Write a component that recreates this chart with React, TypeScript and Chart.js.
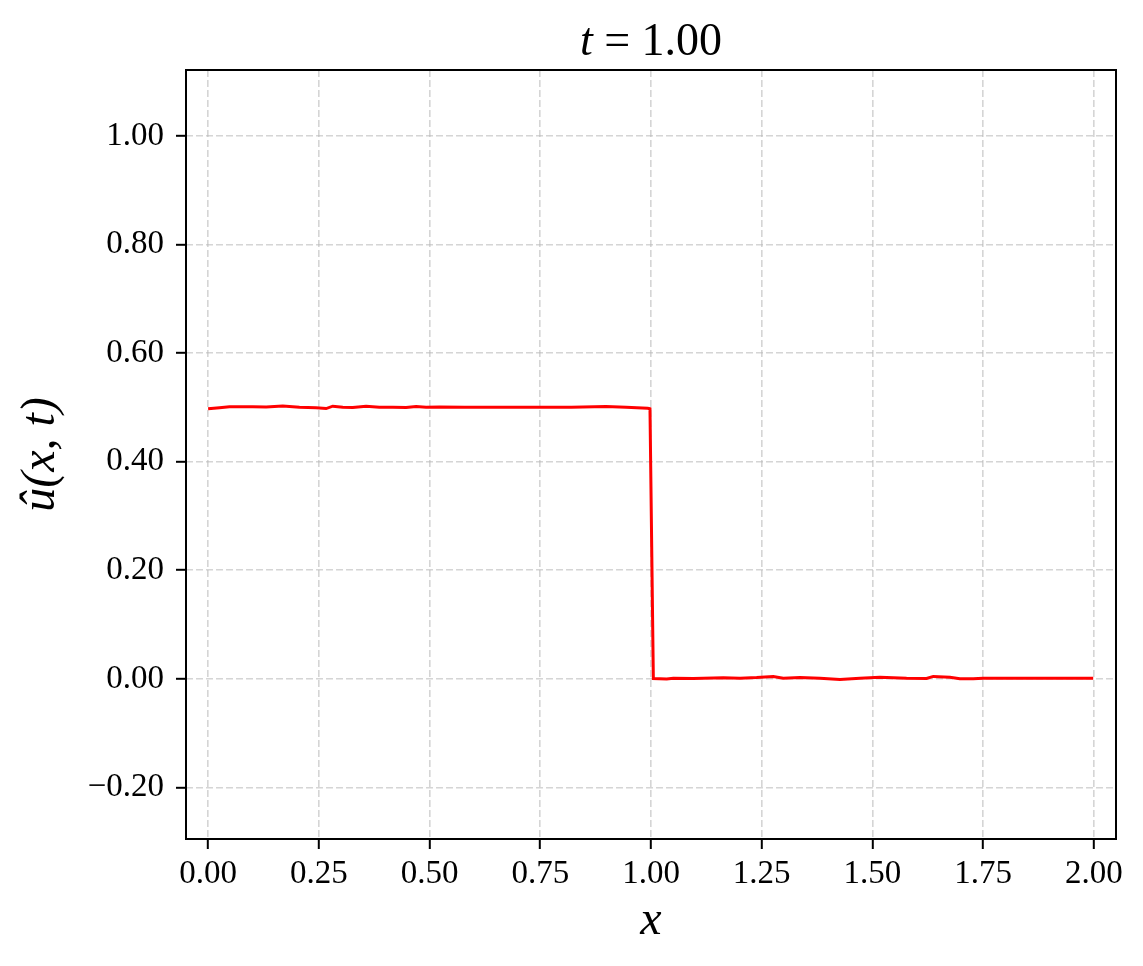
import { useEffect, useRef } from "react";
import { Chart, registerables } from "chart.js";

Chart.register(...registerables);

const xValues = [
  0.0, 0.0256, 0.0482, 0.1008, 0.1309, 0.1685, 0.2062, 0.2437, 0.2664, 0.2814,
  0.304, 0.3266, 0.3566, 0.3867, 0.4168, 0.447, 0.4695, 0.4921, 0.5222, 0.58,
  0.64, 0.70, 0.76, 0.82, 0.8984, 0.9436, 0.9925, 0.9977,
  1.0053, 1.0354, 1.0504, 1.0956, 1.1633, 1.201, 1.2386, 1.2761, 1.2987, 1.3363,
  1.3815, 1.4266, 1.4718, 1.5169, 1.5771, 1.6223, 1.6373, 1.6749, 1.6975, 1.7276,
  1.7502, 1.85, 1.9985,
];
const uValues = [
  0.4975, 0.4995, 0.5012, 0.5012, 0.5008, 0.5025, 0.5005, 0.4995, 0.4978, 0.5022,
  0.5005, 0.5, 0.5022, 0.5005, 0.5005, 0.4998, 0.5018, 0.5003, 0.5008, 0.5005,
  0.5003, 0.5005, 0.5005, 0.5003, 0.5018, 0.5005, 0.4985, 0.4975,
  0.0005, -0.0001, 0.0012, 0.0008, 0.0018, 0.0012, 0.0024, 0.0045, 0.0012, 0.0024,
  0.0012, -0.0012, 0.0012, 0.0031, 0.0012, 0.0006, 0.0045, 0.0031, 0.0002, 0.0002,
  0.0012, 0.0012, 0.0012,
];

const xTicks = [0, 0.25, 0.5, 0.75, 1.0, 1.25, 1.5, 1.75, 2.0];
const yTicks = [-0.2, 0, 0.2, 0.4, 0.6, 0.8, 1.0];

const titleVar = "t";
const titleRest = " = 1.00";
const xLabel = "x";
const yLabel = "û(x, t)";

const FONT = "'Liberation Serif', 'DejaVu Serif', serif";

const fmt = (v: number) => {
  const r = Math.round(v * 100) / 100;
  if (r < 0) return "\u2212" + Math.abs(r).toFixed(2);
  return Math.abs(r).toFixed(2);
};

const framePlugin = {
  id: "frame",
  afterDraw(chart: any) {
    const { ctx, chartArea } = chart;
    ctx.save();
    ctx.strokeStyle = "#000";
    ctx.lineWidth = 2;
    ctx.setLineDash([]);
    ctx.strokeRect(chartArea.left, chartArea.top, chartArea.right - chartArea.left, chartArea.bottom - chartArea.top);
    const size = 46;
    const fi = `italic ${size}px ${FONT}`;
    const fr = `normal ${size}px ${FONT}`;
    ctx.font = fi;
    const w1 = ctx.measureText(titleVar).width;
    ctx.font = fr;
    const w2 = ctx.measureText(titleRest).width;
    const cx = (chartArea.left + chartArea.right) / 2;
    const x0 = cx - (w1 + w2) / 2;
    const baseline = 55;
    ctx.fillStyle = "#000";
    ctx.textBaseline = "alphabetic";
    ctx.textAlign = "left";
    ctx.font = fi;
    ctx.fillText(titleVar, x0, baseline);
    ctx.font = fr;
    ctx.fillText(titleRest, x0 + w1, baseline);
    ctx.restore();
  },
};

export default function App() {
  const ref = useRef<HTMLCanvasElement | null>(null);

  useEffect(() => {
    document.body.style.margin = "0";
    const canvas = ref.current;
    if (!canvas) return;
    const points = xValues.map((x, i) => ({ x, y: uValues[i] }));
    const gridOpts = {
      color: "rgba(185,185,185,0.6)",
      lineWidth: 1.6,
      drawTicks: true,
      tickLength: 10,
      tickColor: "#000",
      tickWidth: 2,
    };
    const chart = new Chart(canvas, {
      type: "line",
      data: {
        datasets: [
          {
            data: points,
            borderColor: "#ff0000",
            borderWidth: 3,
            pointRadius: 0,
            tension: 0,
            fill: false,
          },
        ],
      },
      options: {
        animation: false,
        responsive: false,
        maintainAspectRatio: false,
        devicePixelRatio: 1,
        layout: { padding: { left: 0, right: 27, top: 70, bottom: 0 } },
        plugins: {
          legend: { display: false },
          tooltip: { enabled: false },
          title: { display: false },
        },
        scales: {
          x: {
            type: "linear",
            min: -0.05,
            max: 2.05,
            afterBuildTicks: (axis: any) => {
              axis.ticks = xTicks.map((v) => ({ value: v }));
            },
            afterFit: (axis: any) => {
              axis.height = 127;
            },
            grid: gridOpts,
            border: { display: false, dash: [7, 3] },
            ticks: {
              color: "#000",
              padding: 6,
              maxRotation: 0,
              autoSkip: false,
              font: { family: FONT, size: 33 },
              callback: (v: any) => fmt(Number(v)),
            },
            title: {
              display: true,
              text: xLabel,
              color: "#000",
              font: { family: FONT, size: 48, style: "italic" },
              padding: { top: 0, bottom: 16 },
            },
          },
          y: {
            type: "linear",
            min: -0.295,
            max: 1.1215,
            afterBuildTicks: (axis: any) => {
              axis.ticks = yTicks.map((v) => ({ value: v }));
            },
            afterFit: (axis: any) => {
              axis.width = 186;
            },
            grid: gridOpts,
            border: { display: false, dash: [7, 3] },
            ticks: {
              color: "#000",
              padding: 12,
              autoSkip: false,
              font: { family: FONT, size: 33 },
              callback: (v: any) => fmt(Number(v)),
            },
            title: {
              display: true,
              text: yLabel,
              color: "#000",
              font: { family: FONT, size: 48, style: "italic" },
              padding: { top: 13, bottom: 0 },
            },
          },
        },
      },
      plugins: [framePlugin],
    } as any);
    return () => chart.destroy();
  }, []);

  return (
    <div style={{ width: 1143, height: 966, background: "#fff" }}>
      <canvas ref={ref} width={1143} height={966} style={{ width: 1143, height: 966, display: "block" }} />
    </div>
  );
}
